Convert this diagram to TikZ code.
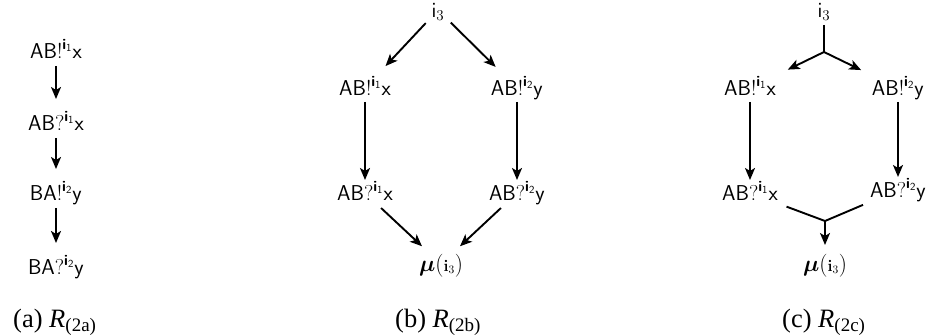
\RequirePackage{fix-cm}
\documentclass[tikz,border=0pt]{standalone}
\usepackage{amsmath}
\usepackage[no-math]{fontspec}
\newfontfamily\capfont{Liberation Serif}
\usetikzlibrary{arrows.meta,calc}
\newcommand{\bsi}{\text{\sffamily\bfseries i}}
\newcommand{\ch}[4]{$\mathsf{#1}\mathord{#2}^{\bsi_{\mathsf{#3}}}\mathsf{#4}$}
\newcommand{\muix}{{\fontsize{23}{26}\selectfont$\boldsymbol{\mu}({\scriptstyle\mathbf{i}_{3}})$}}
\newcommand{\capsub}[1]{\raisebox{-4.5pt}{\fontsize{19}{20}\selectfont #1}}
\tikzset{
  lbl/.style={inner sep=0pt, text height=15pt, text depth=0pt, font=\fontsize{21.5}{25}\selectfont},
  captxt/.style={anchor=base west, inner sep=0pt, font=\capfont\fontsize{26.5}{30}\selectfont},
  arr/.style={line width=1.9pt, -{Stealth[length=12pt,width=10pt,inset=3pt]}},
  ln/.style={line width=1.9pt}
}
\begin{document}
\begin{tikzpicture}[x=1pt,y=-1pt]
\useasboundingbox (0,0) rectangle (928,336);
% panel a
\node[lbl] (a1) at (56,51) {\ch{AB}{!}{1}{x}};
\node[lbl] (a2) at (56,123) {\ch{AB}{?}{1}{x}};
\node[lbl] (a3) at (56,193) {\ch{BA}{!}{2}{y}};
\node[lbl] (a4) at (56,267) {\ch{BA}{?}{2}{y}};
\draw[arr, shorten <=15pt, shorten >=24pt] (a1.center) -- (a2.center);
\draw[arr, shorten <=15pt, shorten >=24pt] (a2.center) -- (a3.center);
\draw[arr, shorten <=15pt, shorten >=24pt] (a3.center) -- (a4.center);
% panel b
\node[lbl] (bi) at (438,10) {$\mathsf{i}_3$};
\node[lbl] (b1) at (365,88) {\ch{AB}{!}{1}{x}};
\node[lbl] (b2) at (517,88) {\ch{AB}{!}{2}{y}};
\node[lbl] (b3) at (365,193) {\ch{AB}{?}{1}{x}};
\node[lbl] (b4) at (517,193) {\ch{AB}{?}{2}{y}};
\node[lbl] (bm) at (441,264) {\muix};
\draw[arr, shorten <=18pt, shorten >=30pt] (bi.center) -- (b1.center);
\draw[arr, shorten <=18pt, shorten >=30pt] (bi.center) -- (b2.center);
\draw[arr, shorten <=14pt, shorten >=13pt] (b1.center) -- (b3.center);
\draw[arr, shorten <=14pt, shorten >=13pt] (b2.center) -- (b4.center);
\draw[arr, shorten <=22pt, shorten >=26pt] (b3.center) -- (bm.center);
\draw[arr, shorten <=22pt, shorten >=26pt] (b4.center) -- (bm.center);
% panel c
\node[lbl] (ci) at (824,10) {$\mathsf{i}_3$};
\coordinate (j1) at (824,52);
\node[lbl] (c1) at (750,88) {\ch{AB}{!}{1}{x}};
\node[lbl] (c2) at (898,88) {\ch{AB}{!}{2}{y}};
\node[lbl] (c3) at (750,193) {\ch{AB}{?}{1}{x}};
\node[lbl] (c4) at (898,190) {\ch{AB}{?}{2}{y}};
\coordinate (j2) at (825,221);
\node[lbl] (cm) at (825,264) {\muix};
\draw[ln, shorten <=15pt] (ci.center) -- (j1);
\draw[arr, shorten >=42pt] (j1) -- (c1.center);
\draw[arr, shorten >=41pt] (j1) -- (c2.center);
\draw[arr, shorten <=14pt, shorten >=13pt] (c1.center) -- (c3.center);
\draw[arr, shorten <=14pt, shorten >=13pt] (c2.center) -- (c4.center);
\draw[ln, shorten <=39pt] (c3.center) -- (j2);
\draw[ln, shorten <=38pt] (c4.center) -- (j2);
\draw[arr, shorten >=19pt] (j2) -- (cm.center);
% captions
\node[captxt] (ka) at (13,327) {(a) \textit{R}\capsub{(2a)}};
\node[captxt] (kb) at (395,327) {(b) \textit{R}\capsub{(2b)}};
\node[captxt] (kc) at (782,327) {(c) \textit{R}\capsub{(2c)}};
\end{tikzpicture}
\end{document}
